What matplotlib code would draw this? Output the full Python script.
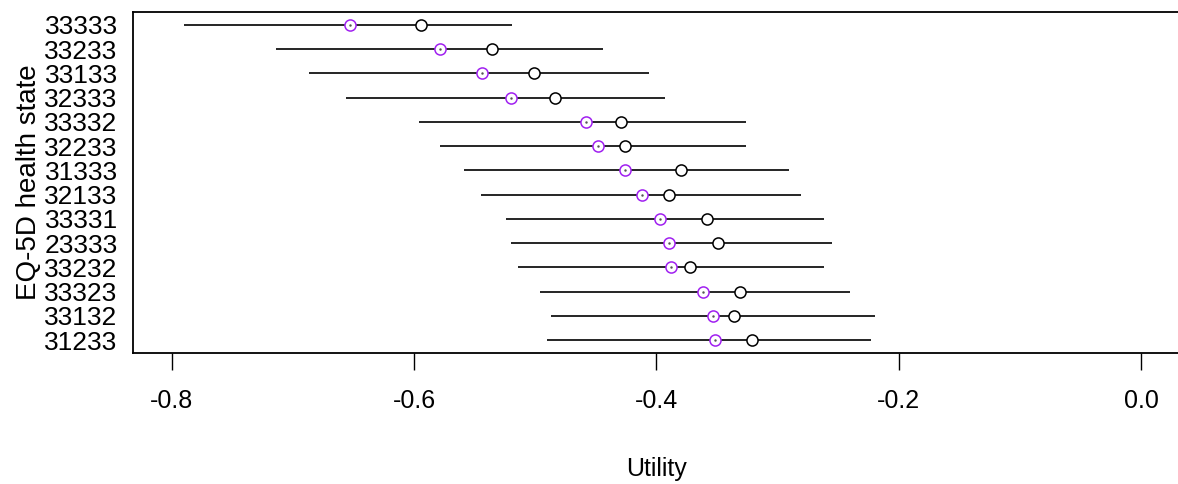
import matplotlib
matplotlib.use("Agg")
import matplotlib.pyplot as plt
import numpy as np

states = ["33333", "33233", "33133", "32333", "33332", "32233", "31333",
          "32133", "33331", "23333", "33232", "33323", "33132", "31233"]
lower = [-0.790, -0.714, -0.687, -0.656, -0.596, -0.579, -0.559,
         -0.545, -0.524, -0.520, -0.514, -0.496, -0.487, -0.490]
upper = [-0.519, -0.444, -0.406, -0.393, -0.326, -0.326, -0.291,
         -0.281, -0.262, -0.255, -0.262, -0.240, -0.220, -0.223]
est_purple = [-0.653, -0.579, -0.544, -0.520, -0.458, -0.448, -0.426,
              -0.412, -0.397, -0.390, -0.388, -0.362, -0.353, -0.352]
est_black = [-0.594, -0.536, -0.501, -0.484, -0.429, -0.426, -0.380,
             -0.390, -0.358, -0.349, -0.372, -0.331, -0.336, -0.321]
xticks = [-0.8, -0.6, -0.4, -0.2, 0.0]

plt.rcParams['font.family'] = ['Liberation Sans', 'DejaVu Sans']

fig = plt.figure(figsize=(11.78, 4.84), dpi=100)
W, H = 1178, 484
left, right, top, bottom = 133, 1180, 12.4, 352.6
ax = fig.add_axes([left / W, 1 - bottom / H, (right - left) / W, (bottom - top) / H])

n = len(states)
y = np.arange(n, 0, -1)

ax.hlines(y, lower, upper, color='black', lw=1.2, zorder=2)
ax.plot(est_black, y, 'o', ms=8, mfc='white', mec='black', mew=1.1, zorder=3)
ax.plot(est_purple, y, 'o', ms=8, mfc='white', mec='#A020F0', mew=1.1, zorder=4)
ax.plot(est_purple, y, '.', ms=1.5, color='#555555', zorder=5)

ax.set_xlim(-0.832, 0.032)
ax.set_ylim(0.48, n + 0.52)

ax.set_yticks(y)
ax.set_yticklabels(states, fontsize=19)
ax.tick_params(axis='y', length=0, pad=11)
ax.set_xticks(xticks)
ax.set_xticklabels([f"{t:.1f}" for t in xticks], fontsize=18)
ax.tick_params(axis='x', length=12, width=1, pad=14, direction='out')

for s in ax.spines.values():
    s.set_linewidth(1.3)

ax.set_xlabel("Utility", fontsize=18, labelpad=32)
ax.set_ylabel("EQ-5D health state", fontsize=20, labelpad=2)

fig.savefig("out.png", dpi=100)
